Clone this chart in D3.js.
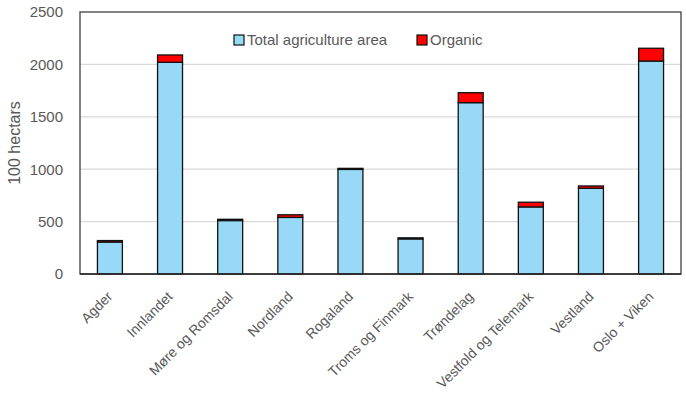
<!DOCTYPE html>
<html>
<head>
<meta charset="utf-8">
<script src="https://cdn.jsdelivr.net/npm/d3@7"></script>
<style>
  html, body { margin: 0; padding: 0; background: #fff; }
  svg { display: block; font-family: "Liberation Sans", Arial, sans-serif; }
</style>
</head>
<body>
<svg id="chart" width="686" height="394"></svg>
<script>
// Agricultural area by county (100 hectares)
const regions = ["Agder", "Innlandet", "Møre og Romsdal", "Nordland", "Rogaland",
  "Troms og Finmark", "Trøndelag", "Vestfold og Telemark", "Vestland", "Oslo + Viken"];
const totalArea = [305, 2020, 510, 540, 998, 335, 1635, 640, 818, 2032];
const organicArea = [14, 70, 12, 25, 10, 10, 95, 45, 22, 122];
const seriesNames = ["Total agriculture area", "Organic"];
const seriesColors = ["#97D9F6", "#FF0000"];
const yTicks = [0, 500, 1000, 1500, 2000, 2500];

const svg = d3.select("#chart");
const margin = { top: 12, right: 5, bottom: 120, left: 80 };
const W = 686, H = 394;
const plotW = W - margin.left - margin.right;
const plotH = H - margin.top - margin.bottom;
const textColor = "#595959";

const rows = regions.map((r, i) => ({ region: r, total: totalArea[i], organic: organicArea[i] }));
const stack = d3.stack().keys(["total", "organic"])(rows);

const x = d3.scaleBand().domain(regions).range([0, plotW]).paddingInner(0.585).paddingOuter(0.29);
const y = d3.scaleLinear().domain([0, 2500]).range([plotH, 0]);

const g = svg.append("g").attr("transform", `translate(${margin.left},${margin.top})`);

// gridlines
g.append("g").selectAll("line").data(yTicks.filter(t => t > 0 && t < 2500)).join("line")
  .attr("x1", 0).attr("x2", plotW)
  .attr("y1", d => y(d)).attr("y2", d => y(d))
  .attr("stroke", "#d9d9d9").attr("stroke-width", 1.3);

// stacked bars
g.append("g").selectAll("g").data(stack).join("g")
  .attr("fill", (d, i) => seriesColors[i])
  .selectAll("rect").data(d => d).join("rect")
  .attr("x", d => x(d.data.region))
  .attr("width", x.bandwidth())
  .attr("y", d => y(d[1]))
  .attr("height", d => y(d[0]) - y(d[1]))
  .attr("stroke", "#111").attr("stroke-width", 1.3);

// plot frame
g.append("rect").attr("x", 0).attr("y", 0).attr("width", plotW).attr("height", plotH)
  .attr("fill", "none").attr("stroke", "#404040").attr("stroke-width", 1.3);
g.append("line").attr("x1", 0).attr("x2", plotW).attr("y1", plotH).attr("y2", plotH)
  .attr("stroke", "#262626").attr("stroke-width", 1.6);

// y axis
const yAxis = g.append("g").call(d3.axisLeft(y).tickValues(yTicks).tickFormat(d3.format("d")).tickSize(0).tickPadding(17));
yAxis.select(".domain").remove();
yAxis.selectAll("text").attr("fill", textColor).attr("font-size", 15);

// x axis labels
const xAxis = g.append("g").attr("transform", `translate(0,${plotH})`)
  .call(d3.axisBottom(x).tickSize(0).tickPadding(0));
xAxis.select(".domain").remove();
xAxis.selectAll("text")
  .attr("fill", textColor).attr("font-size", 14)
  .attr("text-anchor", "end")
  .attr("dy", "0.35em")
  .attr("transform", "translate(0,20) rotate(-45)");

// y title
svg.append("text")
  .attr("transform", `translate(20,${margin.top + plotH / 2}) rotate(-90)`)
  .attr("text-anchor", "middle")
  .attr("fill", textColor).attr("font-size", 16)
  .text("100 hectars");

// legend
const legendPos = [234, 417];
const legend = svg.append("g").selectAll("g").data(seriesNames).join("g")
  .attr("transform", (d, i) => `translate(${legendPos[i]},35)`);
legend.append("rect").attr("width", 10).attr("height", 10)
  .attr("fill", (d, i) => seriesColors[i]).attr("stroke", "#111").attr("stroke-width", 1.2);
legend.append("text").attr("x", 13).attr("y", 5).attr("dy", "0.35em")
  .attr("fill", textColor).attr("font-size", 15).text(d => d);
</script>
</body>
</html>
